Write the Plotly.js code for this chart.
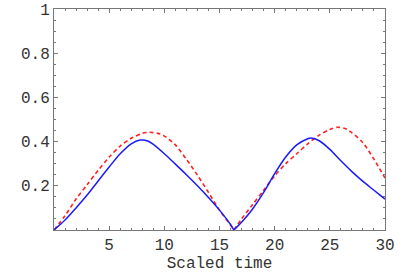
<!DOCTYPE html>
<html>
<head>
<meta charset="utf-8">
<script src="https://cdn.plot.ly/plotly-3.0.1.min.js"></script>
<style>html,body{margin:0;padding:0;background:#fff;}#chart{width:414px;height:277px;}</style>
</head>
<body>
<div id="chart"></div>
<script>
const blueX = [0, 1, 2, 3, 4, 5, 6, 7, 7.8, 8.5, 9, 10, 11, 12, 13, 14, 15, 16, 16.3,
               17, 18, 19, 20, 21, 22, 23, 23.3, 24, 25, 26, 27, 28, 29, 30];
const blueY = [0, 0.045, 0.1, 0.158, 0.222, 0.285, 0.345, 0.39, 0.407, 0.403, 0.387, 0.345, 0.298, 0.25, 0.2, 0.147, 0.09, 0.025, 0,
               0.035, 0.095, 0.17, 0.255, 0.33, 0.385, 0.413, 0.416, 0.405, 0.365, 0.313, 0.264, 0.22, 0.18, 0.14];
const redX = [0, 1, 2, 3, 4, 5, 6, 7, 8, 8.7, 9.5, 10, 11, 12, 13, 14, 15, 16, 16.3,
              17, 18, 19, 20, 21, 22, 23, 24, 25, 25.7, 26.5, 27, 28, 29, 30];
const redY = [0, 0.065, 0.14, 0.205, 0.27, 0.33, 0.38, 0.415, 0.437, 0.442, 0.436, 0.425, 0.385, 0.32, 0.248, 0.17, 0.09, 0.022, 0,
              0.05, 0.115, 0.18, 0.245, 0.3, 0.345, 0.39, 0.428, 0.455, 0.465, 0.457, 0.44, 0.395, 0.32, 0.235];
const cuspX = 16.3;
const xTicks = [5, 10, 15, 20, 25, 30];
const yTicks = [0.2, 0.4, 0.6, 0.8, 1];
const yTickText = ['0.2', '0.4', '0.6', '0.8', '1'];
const xTitle = 'Scaled time';

const frameColor = '#777';
const font = {family: 'Liberation Mono, DejaVu Sans Mono, monospace', size: 16, color: '#333'};

// split each series at the cusp so the sharp V is kept while the arcs are smooth
function pieces(xs, ys, line) {
  const k = xs.indexOf(cuspX);
  return [
    {x: xs.slice(0, k + 1), y: ys.slice(0, k + 1)},
    {x: xs.slice(k), y: ys.slice(k)}
  ].map(p => Object.assign(p, {mode: 'lines', line: Object.assign({shape: 'spline', smoothing: 0.8}, line), hoverinfo: 'skip'}));
}

const traces = [].concat(
  pieces(redX, redY, {color: '#ff2020', width: 1.6, dash: '4px,3px'}),
  pieces(blueX, blueY, {color: '#1a1aff', width: 1.5})
);

const axisCommon = {
  showline: true, linecolor: frameColor, linewidth: 1, mirror: 'ticks',
  ticks: 'inside', ticklen: 4, tickcolor: frameColor, tickwidth: 1,
  showgrid: false, zeroline: false, tickfont: font, fixedrange: true
};

const layout = {
  width: 414, height: 277,
  margin: {l: 54, r: 29, t: 9, b: 47},
  paper_bgcolor: '#fff', plot_bgcolor: '#fff',
  showlegend: false,
  xaxis: Object.assign({}, axisCommon, {
    range: [0, 30], tickmode: 'array', tickvals: xTicks,
    minor: {tickmode: 'linear', tick0: 0, dtick: 1, ticks: 'inside', ticklen: 2, tickcolor: frameColor, showgrid: false},
    title: {text: xTitle, font: font, standoff: 2}
  }),
  yaxis: Object.assign({}, axisCommon, {
    range: [0, 1], tickmode: 'array', tickvals: yTicks, ticktext: yTickText,
    minor: {tickmode: 'linear', tick0: 0, dtick: 0.05, ticks: 'inside', ticklen: 2, tickcolor: frameColor, showgrid: false}
  })
};

Plotly.newPlot('chart', traces, layout, {displayModeBar: false, staticPlot: true});
</script>
</body>
</html>
